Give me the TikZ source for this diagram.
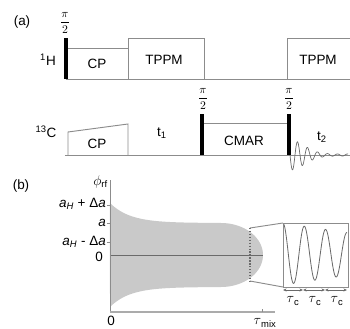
\documentclass[tikz,border=0pt]{standalone}
\usepackage{fontspec}
\setmainfont{Liberation Sans}
\usepackage{amsmath}
\usepackage{xcolor}
\definecolor{seqGray}{HTML}{8C8C8C}
\definecolor{seqLight}{HTML}{ABABAB}
\definecolor{seqFill}{HTML}{C9C9C9}
\definecolor{seqDark}{HTML}{6A6A6A}
\usetikzlibrary{arrows.meta}
\tikzset{
  seqline/.style={draw=seqGray, line width=0.8pt},
  lbl/.style={font=\fontsize{11.5}{13}\selectfont, inner sep=0pt},
  fraclbl/.style={font=\fontsize{10}{12}\selectfont, inner sep=0pt},
  tauarrow/.style={draw=seqDark, line width=0.6pt, {Stealth[length=3pt,width=2.5pt]}-{Stealth[length=3pt,width=2.5pt]}},
}

\begin{document}
\begin{tikzpicture}[x=0.03cm, y=-0.03cm]
  \useasboundingbox (0,0) rectangle (350,329);
  \node[lbl] (labA) at (22,22) {(a)};
  \node[lbl] (chH) at (48,60) {\textsuperscript{1}H};
  \node[fraclbl] (piH) at (65,23) {$\dfrac{\pi}{2}$};
  \draw[seqline] (66,79) -- (350,79);
  \draw[seqline] (66,48) -- (128,48);
  \draw[seqline] (128,79) |- (204,38) -- (204,79);
  \draw[seqline] (287,79) |- (350,38);
  \fill (64,38) rectangle (68,79);
  \node[lbl] (cpH) at (97,64) {CP};
  \node[lbl] (tppmA) at (164,60) {TPPM};
  \node[lbl] (tppmB) at (318,60) {TPPM};

  \node[lbl] (chC) at (46,132) {\textsuperscript{13}C};
  \draw[seqline] (65,155) -- (350,155);
  \draw[seqline] (68,155) -- (68,132) -- (128,124) -- (128,155);
  \node[lbl] (cpC) at (97,144) {CP};
  \node[lbl] (tOne) at (162,133) {t\textsubscript{1}};
  \draw[seqline] (202,123) -- (289,123);
  \fill (200.5,114) rectangle (204.5,155);
  \fill (287,114) rectangle (291,155);
  \node[lbl] (cmar) at (244,141) {CMAR};
  \node[fraclbl] (piA) at (203,99) {$\dfrac{\pi}{2}$};
  \node[fraclbl] (piB) at (289,99) {$\dfrac{\pi}{2}$};
  \draw[seqDark, line width=0.6pt] plot[domain=0:58, samples=300, smooth] ({290+\x},{155+(14*exp(-(\x/20)^2)+1)*sin(36*\x)});
  \node[lbl] (tTwo) at (322,137) {t\textsubscript{2}};

  \node[lbl] (labB) at (21,186) {(b)};
  \fill[seqFill] plot[domain=110:221, samples=60] (\x,{255-32-20*exp(-(\x-110)/20)})
    -- plot[domain=0:180, samples=60] ({221+42*sin(\x)},{255-32*cos(\x)})
    -- plot[domain=221:110, samples=60] (\x,{255+32+20*exp(-(\x-110)/20)}) -- cycle;
  \draw[seqDark, line width=0.8pt] (110,255) -- (263,255);
  \draw[seqGray, line width=0.8pt] (110,180) -- (110,312);
  \draw[seqLight, line width=1.2pt] (110,312) -- (275,312);
  \draw[seqGray, line width=0.6pt] (262,312) -- (262,309);
  \draw[seqDark, line width=1.1pt, dash pattern=on 1.2pt off 1.3pt] (250,228) -- (250,281);
  \draw[seqline] (250,228) -- (283,223);
  \draw[seqline] (250,281) -- (283,287);
  \draw[seqline] (283,223) rectangle (348,287);
  \draw[seqDark, line width=0.7pt] plot[domain=0:63, samples=150, smooth] ({284+\x},{254-(31-0.15*(\x+1))*cos(16.9*(\x+1))});
  \draw[tauarrow] (283,290) -- (303,290);
  \draw[tauarrow] (303,290) -- (325,290);
  \draw[tauarrow] (325,290) -- (347,290);
  \node[lbl] (tauA) at (293,301) {$\tau$\textsubscript{c}};
  \node[lbl] (tauB) at (315,301) {$\tau$\textsubscript{c}};
  \node[lbl] (tauC) at (337,301) {$\tau$\textsubscript{c}};

  \node[lbl, anchor=east] (phiAx) at (108,182) {$\phi$\textsubscript{rf}};
  \node[lbl, anchor=east] (aPlus) at (106,204) {\textit{a}\textsubscript{\textit{H}} + Δ\textit{a}};
  \node[lbl, anchor=east] (aMid) at (106,223) {\textit{a}};
  \node[lbl, anchor=east] (aMinus) at (106,242) {\textit{a}\textsubscript{\textit{H}} - Δ\textit{a}};
  \node[lbl, anchor=east] (zeroY) at (103,257) {0};
  \draw[seqline] (107,205) -- (110,205);
  \draw[seqline] (107,223) -- (110,223);
  \draw[seqline] (107,242) -- (110,242);
  \node[lbl] (zeroX) at (111,321) {0};
  \node[lbl] (tauMix) at (265,323) {$\tau$\textsubscript{mix}};
\end{tikzpicture}
\end{document}
